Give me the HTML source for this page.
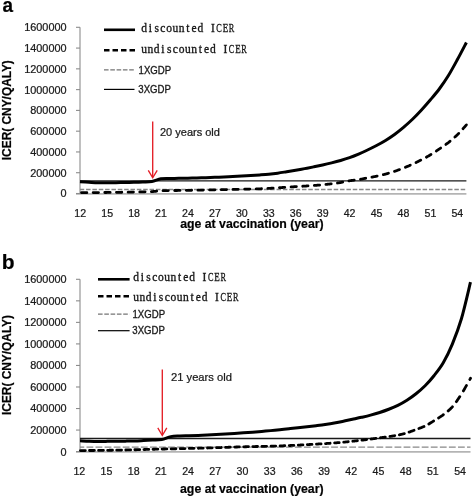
<!DOCTYPE html>
<html><head><meta charset="utf-8"><style>
html,body{margin:0;padding:0;background:#fff;}
body{width:472px;height:497px;overflow:hidden;}
svg{display:block;font-family:"Liberation Sans",sans-serif;will-change:transform;}
#w{width:472px;height:497px;}
</style></head><body><div id="w">
<svg width="472" height="497" viewBox="0 0 472 497">
<rect width="472" height="497" fill="#fff"/>
<g>
<g fill="#1a1a1a" stroke="#1a1a1a" stroke-width="0.24">
<text transform="translate(2.6,12.4) scale(0.9,0.98)" font-size="21" font-weight="bold" fill="#000">a</text>
<text x="1.8" y="268.8" font-size="21" font-weight="bold" fill="#000">b</text>
<text x="66.6" y="31.20" text-anchor="end" font-size="10.9">1600000</text>
<text x="66.6" y="51.98" text-anchor="end" font-size="10.9">1400000</text>
<text x="66.6" y="72.75" text-anchor="end" font-size="10.9">1200000</text>
<text x="66.6" y="93.53" text-anchor="end" font-size="10.9">1000000</text>
<text x="66.6" y="114.30" text-anchor="end" font-size="10.9">800000</text>
<text x="66.6" y="135.08" text-anchor="end" font-size="10.9">600000</text>
<text x="66.6" y="155.85" text-anchor="end" font-size="10.9">400000</text>
<text x="66.6" y="176.62" text-anchor="end" font-size="10.9">200000</text>
<text x="66.6" y="197.40" text-anchor="end" font-size="10.9">0</text>
<text x="66.6" y="283.20" text-anchor="end" font-size="10.9">1600000</text>
<text x="66.6" y="304.74" text-anchor="end" font-size="10.9">1400000</text>
<text x="66.6" y="326.27" text-anchor="end" font-size="10.9">1200000</text>
<text x="66.6" y="347.81" text-anchor="end" font-size="10.9">1000000</text>
<text x="66.6" y="369.35" text-anchor="end" font-size="10.9">800000</text>
<text x="66.6" y="390.89" text-anchor="end" font-size="10.9">600000</text>
<text x="66.6" y="412.43" text-anchor="end" font-size="10.9">400000</text>
<text x="66.6" y="433.96" text-anchor="end" font-size="10.9">200000</text>
<text x="66.6" y="455.50" text-anchor="end" font-size="10.9">0</text>
<text x="80.20" y="216.8" text-anchor="middle" font-size="10.6">12</text>
<text x="107.14" y="216.8" text-anchor="middle" font-size="10.6">15</text>
<text x="134.08" y="216.8" text-anchor="middle" font-size="10.6">18</text>
<text x="161.02" y="216.8" text-anchor="middle" font-size="10.6">21</text>
<text x="187.96" y="216.8" text-anchor="middle" font-size="10.6">24</text>
<text x="214.90" y="216.8" text-anchor="middle" font-size="10.6">27</text>
<text x="241.84" y="216.8" text-anchor="middle" font-size="10.6">30</text>
<text x="268.78" y="216.8" text-anchor="middle" font-size="10.6">33</text>
<text x="295.72" y="216.8" text-anchor="middle" font-size="10.6">36</text>
<text x="322.66" y="216.8" text-anchor="middle" font-size="10.6">39</text>
<text x="349.60" y="216.8" text-anchor="middle" font-size="10.6">42</text>
<text x="376.54" y="216.8" text-anchor="middle" font-size="10.6">45</text>
<text x="403.48" y="216.8" text-anchor="middle" font-size="10.6">48</text>
<text x="430.42" y="216.8" text-anchor="middle" font-size="10.6">51</text>
<text x="457.36" y="216.8" text-anchor="middle" font-size="10.6">54</text>
<text x="79.30" y="474.8" text-anchor="middle" font-size="10.6">12</text>
<text x="106.50" y="474.8" text-anchor="middle" font-size="10.6">15</text>
<text x="133.69" y="474.8" text-anchor="middle" font-size="10.6">18</text>
<text x="160.88" y="474.8" text-anchor="middle" font-size="10.6">21</text>
<text x="188.08" y="474.8" text-anchor="middle" font-size="10.6">24</text>
<text x="215.27" y="474.8" text-anchor="middle" font-size="10.6">27</text>
<text x="242.47" y="474.8" text-anchor="middle" font-size="10.6">30</text>
<text x="269.66" y="474.8" text-anchor="middle" font-size="10.6">33</text>
<text x="296.86" y="474.8" text-anchor="middle" font-size="10.6">36</text>
<text x="324.06" y="474.8" text-anchor="middle" font-size="10.6">39</text>
<text x="351.25" y="474.8" text-anchor="middle" font-size="10.6">42</text>
<text x="378.44" y="474.8" text-anchor="middle" font-size="10.6">45</text>
<text x="405.64" y="474.8" text-anchor="middle" font-size="10.6">48</text>
<text x="432.83" y="474.8" text-anchor="middle" font-size="10.6">51</text>
<text x="460.03" y="474.8" text-anchor="middle" font-size="10.6">54</text>
<text transform="translate(11.2,110.2) rotate(-90)" text-anchor="middle" font-size="11.9" font-weight="bold" fill="#000">ICER( CNY/QALY)</text>
<text transform="translate(11.2,365) rotate(-90)" text-anchor="middle" font-size="11.9" font-weight="bold" fill="#000">ICER( CNY/QALY)</text>
<text x="251.9" y="228.1" text-anchor="middle" font-size="12.3" font-weight="bold" fill="#000">age at vaccination (year)</text>
<text x="251.8" y="492.8" text-anchor="middle" font-size="12.3" font-weight="bold" fill="#000">age at vaccination (year)</text>
<text x="160" y="135.6" font-size="11">20 years old</text>
<text x="171" y="381.2" font-size="11.2">21 years old</text>
</g>
<line x1="80.0" y1="27.3" x2="80.0" y2="193.5" stroke="#8c8c8c" stroke-width="1.1"/>
<line x1="76.0" y1="193.9" x2="466.4" y2="193.9" stroke="#b4b4b4" stroke-width="1.8"/>
<line x1="76.0" y1="27.30" x2="80.0" y2="27.30" stroke="#8c8c8c" stroke-width="1.1"/>
<line x1="76.0" y1="48.08" x2="80.0" y2="48.08" stroke="#8c8c8c" stroke-width="1.1"/>
<line x1="76.0" y1="68.85" x2="80.0" y2="68.85" stroke="#8c8c8c" stroke-width="1.1"/>
<line x1="76.0" y1="89.62" x2="80.0" y2="89.62" stroke="#8c8c8c" stroke-width="1.1"/>
<line x1="76.0" y1="110.40" x2="80.0" y2="110.40" stroke="#8c8c8c" stroke-width="1.1"/>
<line x1="76.0" y1="131.18" x2="80.0" y2="131.18" stroke="#8c8c8c" stroke-width="1.1"/>
<line x1="76.0" y1="151.95" x2="80.0" y2="151.95" stroke="#8c8c8c" stroke-width="1.1"/>
<line x1="76.0" y1="172.72" x2="80.0" y2="172.72" stroke="#8c8c8c" stroke-width="1.1"/>
<line x1="76.0" y1="193.50" x2="80.0" y2="193.50" stroke="#8c8c8c" stroke-width="1.1"/>
<line x1="80.0" y1="189.5" x2="466.4" y2="189.5" stroke="#888" stroke-width="1.3" stroke-dasharray="4.5 1.85" stroke-dashoffset="0.3"/>
<line x1="80.0" y1="180.85" x2="466.4" y2="180.85" stroke="#1a1a1a" stroke-width="1.45"/>
<path d="M80.00,192.70 L80.20,192.70 L80.43,192.70 L80.69,192.70 L80.98,192.70 L81.29,192.69 L81.61,192.69 L81.96,192.69 L82.33,192.69 L82.71,192.69 L83.11,192.69 L83.51,192.68 L83.93,192.68 L84.36,192.68 L84.79,192.68 L85.22,192.67 L85.66,192.67 L86.09,192.67 L86.53,192.67 L86.96,192.66 L87.38,192.66 L87.80,192.66 L88.21,192.66 L88.60,192.65 L88.99,192.65 L89.36,192.65 L89.73,192.65 L90.11,192.64 L90.48,192.64 L90.86,192.64 L91.23,192.64 L91.61,192.63 L91.98,192.63 L92.36,192.63 L92.73,192.62 L93.10,192.62 L93.48,192.62 L93.85,192.61 L94.23,192.61 L94.60,192.61 L94.98,192.60 L95.35,192.60 L95.73,192.60 L96.10,192.59 L96.47,192.59 L96.85,192.59 L97.22,192.58 L97.60,192.58 L97.97,192.57 L98.35,192.57 L98.72,192.57 L99.10,192.56 L99.47,192.56 L99.84,192.55 L100.22,192.55 L100.59,192.55 L100.97,192.54 L101.34,192.54 L101.72,192.53 L102.09,192.53 L102.47,192.53 L102.84,192.52 L103.21,192.52 L103.59,192.51 L103.96,192.51 L104.34,192.50 L104.71,192.50 L105.09,192.50 L105.46,192.49 L105.83,192.49 L106.21,192.48 L106.58,192.48 L106.96,192.47 L107.33,192.47 L107.71,192.46 L108.08,192.46 L108.46,192.45 L108.83,192.45 L109.20,192.44 L109.58,192.44 L109.95,192.44 L110.33,192.43 L110.70,192.43 L111.08,192.42 L111.45,192.42 L111.83,192.41 L112.20,192.41 L112.57,192.40 L112.95,192.40 L113.32,192.39 L113.70,192.39 L114.07,192.38 L114.45,192.38 L114.82,192.37 L115.20,192.37 L115.57,192.36 L115.94,192.36 L116.32,192.35 L116.69,192.35 L117.07,192.34 L117.44,192.34 L117.82,192.33 L118.19,192.33 L118.57,192.32 L118.94,192.32 L119.31,192.31 L119.69,192.31 L120.06,192.30 L120.44,192.30 L120.81,192.29 L121.19,192.28 L121.56,192.28 L121.93,192.27 L122.31,192.27 L122.68,192.26 L123.06,192.26 L123.43,192.25 L123.81,192.25 L124.18,192.24 L124.56,192.24 L124.93,192.23 L125.30,192.23 L125.68,192.22 L126.05,192.22 L126.43,192.21 L126.80,192.20 L127.18,192.20 L127.55,192.19 L127.93,192.19 L128.30,192.18 L128.67,192.18 L129.05,192.17 L129.42,192.17 L129.80,192.16 L130.17,192.15 L130.55,192.15 L130.92,192.14 L131.30,192.14 L131.67,192.13 L132.04,192.12 L132.42,192.12 L132.79,192.11 L133.17,192.10 L133.54,192.10 L133.92,192.09 L134.29,192.08 L134.67,192.08 L135.04,192.07 L135.41,192.06 L135.79,192.06 L136.16,192.05 L136.54,192.04 L136.91,192.03 L137.29,192.03 L137.66,192.02 L138.03,192.01 L138.41,192.00 L138.78,191.99 L139.16,191.99 L139.53,191.98 L139.91,191.97 L140.28,191.96 L140.66,191.95 L141.03,191.94 L141.40,191.93 L141.78,191.92 L142.15,191.91 L142.53,191.90 L142.90,191.89 L143.28,191.88 L143.65,191.87 L144.03,191.87 L144.40,191.86 L144.77,191.85 L145.15,191.84 L145.52,191.83 L145.90,191.82 L146.27,191.81 L146.65,191.80 L147.02,191.79 L147.40,191.79 L147.77,191.77 L148.14,191.76 L148.52,191.75 L148.89,191.74 L149.27,191.73 L149.64,191.71 L150.02,191.70 L150.39,191.68 L150.77,191.66 L151.14,191.64 L151.51,191.62 L151.89,191.60 L152.26,191.58 L152.64,191.55 L153.01,191.52 L153.39,191.49 L153.76,191.46 L154.13,191.42 L154.51,191.39 L154.88,191.35 L155.26,191.31 L155.63,191.27 L156.01,191.23 L156.38,191.20 L156.76,191.16 L157.13,191.12 L157.50,191.08 L157.88,191.04 L158.25,191.01 L158.63,190.97 L159.00,190.94 L159.38,190.91 L159.75,190.88 L160.13,190.85 L160.50,190.82 L160.87,190.80 L161.25,190.78 L161.62,190.76 L162.00,190.75 L162.37,190.73 L162.75,190.72 L163.12,190.70 L163.50,190.69 L163.87,190.68 L164.24,190.67 L164.62,190.66 L164.99,190.66 L165.37,190.65 L165.74,190.64 L166.12,190.64 L166.49,190.63 L166.87,190.63 L167.24,190.62 L167.61,190.62 L167.99,190.61 L168.36,190.61 L168.74,190.60 L169.11,190.59 L169.49,190.59 L169.86,190.58 L170.23,190.57 L170.61,190.57 L170.98,190.56 L171.36,190.56 L171.73,190.55 L172.11,190.54 L172.48,190.54 L172.86,190.53 L173.23,190.53 L173.60,190.52 L173.98,190.52 L174.35,190.51 L174.73,190.51 L175.10,190.50 L175.48,190.50 L175.85,190.49 L176.23,190.49 L176.60,190.48 L176.97,190.48 L177.35,190.48 L177.72,190.47 L178.10,190.47 L178.47,190.46 L178.85,190.46 L179.22,190.45 L179.60,190.45 L179.97,190.44 L180.34,190.44 L180.72,190.43 L181.09,190.43 L181.47,190.42 L181.84,190.42 L182.22,190.41 L182.59,190.41 L182.97,190.40 L183.34,190.40 L183.71,190.39 L184.09,190.39 L184.46,190.38 L184.84,190.38 L185.21,190.37 L185.59,190.37 L185.96,190.36 L186.33,190.36 L186.71,190.35 L187.08,190.35 L187.46,190.34 L187.83,190.34 L188.21,190.33 L188.58,190.33 L188.96,190.32 L189.33,190.31 L189.70,190.31 L190.08,190.30 L190.45,190.29 L190.83,190.29 L191.20,190.28 L191.58,190.27 L191.95,190.27 L192.33,190.26 L192.70,190.25 L193.07,190.24 L193.45,190.24 L193.82,190.23 L194.20,190.22 L194.57,190.22 L194.95,190.21 L195.32,190.20 L195.70,190.19 L196.07,190.19 L196.44,190.18 L196.82,190.17 L197.19,190.17 L197.57,190.16 L197.94,190.15 L198.32,190.14 L198.69,190.14 L199.07,190.13 L199.44,190.12 L199.81,190.12 L200.19,190.11 L200.56,190.10 L200.94,190.09 L201.31,190.09 L201.69,190.08 L202.06,190.07 L202.43,190.07 L202.81,190.06 L203.18,190.05 L203.56,190.04 L203.93,190.04 L204.31,190.03 L204.68,190.02 L205.06,190.01 L205.43,190.01 L205.80,190.00 L206.18,189.99 L206.55,189.98 L206.93,189.98 L207.30,189.97 L207.68,189.96 L208.05,189.95 L208.43,189.95 L208.80,189.94 L209.17,189.93 L209.55,189.93 L209.92,189.92 L210.30,189.91 L210.67,189.90 L211.05,189.90 L211.42,189.89 L211.80,189.88 L212.17,189.87 L212.54,189.86 L212.92,189.86 L213.29,189.85 L213.67,189.84 L214.04,189.83 L214.42,189.83 L214.79,189.82 L215.17,189.81 L215.54,189.80 L215.91,189.80 L216.29,189.79 L216.66,189.78 L217.04,189.77 L217.41,189.77 L217.79,189.76 L218.16,189.75 L218.53,189.74 L218.91,189.73 L219.28,189.73 L219.66,189.72 L220.03,189.71 L220.41,189.70 L220.78,189.70 L221.16,189.69 L221.53,189.68 L221.90,189.67 L222.28,189.66 L222.65,189.66 L223.03,189.65 L223.40,189.64 L223.78,189.63 L224.15,189.63 L224.53,189.62 L224.90,189.61 L225.27,189.60 L225.65,189.59 L226.02,189.59 L226.40,189.58 L226.77,189.57 L227.15,189.56 L227.52,189.55 L227.90,189.55 L228.27,189.54 L228.64,189.53 L229.02,189.52 L229.39,189.51 L229.77,189.50 L230.14,189.50 L230.52,189.49 L230.89,189.48 L231.27,189.47 L231.64,189.47 L232.01,189.46 L232.39,189.45 L232.76,189.44 L233.14,189.43 L233.51,189.43 L233.89,189.42 L234.26,189.41 L234.63,189.40 L235.01,189.40 L235.38,189.39 L235.76,189.38 L236.13,189.37 L236.51,189.37 L236.88,189.36 L237.26,189.35 L237.63,189.34 L238.00,189.34 L238.38,189.33 L238.75,189.32 L239.13,189.32 L239.50,189.31 L239.88,189.30 L240.25,189.29 L240.63,189.29 L241.00,189.28 L241.37,189.27 L241.75,189.26 L242.12,189.25 L242.50,189.25 L242.87,189.24 L243.25,189.23 L243.62,189.22 L244.00,189.22 L244.37,189.21 L244.74,189.20 L245.12,189.19 L245.49,189.18 L245.87,189.18 L246.24,189.17 L246.62,189.16 L246.99,189.15 L247.37,189.14 L247.74,189.14 L248.11,189.13 L248.49,189.12 L248.86,189.11 L249.24,189.10 L249.61,189.09 L249.99,189.08 L250.36,189.07 L250.73,189.07 L251.11,189.06 L251.48,189.05 L251.86,189.04 L252.23,189.03 L252.61,189.02 L252.98,189.01 L253.36,189.00 L253.73,188.99 L254.10,188.98 L254.48,188.97 L254.85,188.96 L255.23,188.95 L255.60,188.94 L255.98,188.93 L256.35,188.92 L256.73,188.91 L257.10,188.90 L257.47,188.89 L257.85,188.87 L258.22,188.86 L258.60,188.85 L258.97,188.84 L259.35,188.82 L259.72,188.81 L260.10,188.80 L260.47,188.78 L260.84,188.77 L261.22,188.75 L261.59,188.74 L261.97,188.72 L262.34,188.71 L262.72,188.69 L263.09,188.67 L263.47,188.66 L263.84,188.64 L264.21,188.62 L264.59,188.61 L264.96,188.59 L265.34,188.57 L265.71,188.55 L266.09,188.53 L266.46,188.52 L266.83,188.50 L267.21,188.48 L267.58,188.46 L267.96,188.44 L268.33,188.42 L268.71,188.40 L269.08,188.38 L269.46,188.36 L269.83,188.34 L270.20,188.31 L270.58,188.29 L270.95,188.27 L271.33,188.25 L271.70,188.22 L272.08,188.20 L272.45,188.18 L272.83,188.15 L273.20,188.13 L273.57,188.10 L273.95,188.08 L274.32,188.05 L274.70,188.03 L275.07,188.00 L275.45,187.98 L275.82,187.95 L276.20,187.93 L276.57,187.90 L276.94,187.88 L277.32,187.86 L277.69,187.83 L278.07,187.81 L278.44,187.78 L278.82,187.76 L279.19,187.73 L279.57,187.70 L279.94,187.68 L280.31,187.65 L280.69,187.63 L281.06,187.60 L281.44,187.58 L281.81,187.55 L282.19,187.52 L282.56,187.50 L282.93,187.47 L283.31,187.44 L283.68,187.42 L284.06,187.39 L284.43,187.37 L284.81,187.34 L285.18,187.32 L285.56,187.29 L285.93,187.27 L286.30,187.24 L286.68,187.22 L287.05,187.19 L287.43,187.17 L287.80,187.14 L288.18,187.12 L288.55,187.10 L288.93,187.07 L289.30,187.05 L289.67,187.02 L290.05,187.00 L290.42,186.98 L290.80,186.95 L291.17,186.93 L291.55,186.91 L291.92,186.88 L292.30,186.86 L292.67,186.84 L293.04,186.81 L293.42,186.79 L293.79,186.77 L294.17,186.75 L294.54,186.72 L294.92,186.70 L295.29,186.68 L295.67,186.65 L296.04,186.63 L296.41,186.61 L296.79,186.59 L297.16,186.56 L297.54,186.54 L297.91,186.52 L298.29,186.50 L298.66,186.47 L299.03,186.45 L299.41,186.43 L299.78,186.41 L300.16,186.39 L300.53,186.36 L300.91,186.34 L301.28,186.32 L301.66,186.30 L302.03,186.27 L302.40,186.25 L302.78,186.23 L303.15,186.21 L303.53,186.18 L303.90,186.16 L304.28,186.14 L304.65,186.11 L305.03,186.09 L305.40,186.06 L305.77,186.04 L306.15,186.02 L306.52,185.99 L306.90,185.97 L307.27,185.95 L307.65,185.92 L308.02,185.90 L308.40,185.87 L308.77,185.85 L309.14,185.82 L309.52,185.80 L309.89,185.77 L310.27,185.75 L310.64,185.72 L311.02,185.70 L311.39,185.67 L311.77,185.65 L312.14,185.62 L312.51,185.59 L312.89,185.57 L313.26,185.54 L313.64,185.51 L314.01,185.48 L314.39,185.45 L314.76,185.42 L315.13,185.40 L315.51,185.37 L315.88,185.34 L316.26,185.31 L316.63,185.28 L317.01,185.25 L317.38,185.22 L317.76,185.19 L318.13,185.16 L318.50,185.13 L318.88,185.10 L319.25,185.07 L319.63,185.03 L320.00,185.00 L320.38,184.97 L320.75,184.93 L321.13,184.90 L321.50,184.87 L321.87,184.83 L322.25,184.80 L322.62,184.76 L323.00,184.72 L323.37,184.69 L323.75,184.65 L324.12,184.61 L324.50,184.57 L324.87,184.53 L325.24,184.49 L325.62,184.45 L325.99,184.41 L326.37,184.37 L326.74,184.33 L327.12,184.29 L327.49,184.25 L327.87,184.21 L328.24,184.16 L328.61,184.12 L328.99,184.08 L329.36,184.03 L329.74,183.99 L330.11,183.94 L330.49,183.90 L330.86,183.85 L331.23,183.81 L331.61,183.76 L331.98,183.71 L332.36,183.67 L332.73,183.62 L333.11,183.57 L333.48,183.52 L333.86,183.48 L334.23,183.43 L334.60,183.38 L334.98,183.33 L335.35,183.28 L335.73,183.23 L336.10,183.18 L336.48,183.13 L336.85,183.08 L337.23,183.02 L337.60,182.97 L337.97,182.92 L338.35,182.86 L338.72,182.80 L339.10,182.75 L339.47,182.69 L339.85,182.63 L340.22,182.57 L340.60,182.51 L340.97,182.44 L341.34,182.38 L341.72,182.31 L342.09,182.24 L342.47,182.17 L342.84,182.09 L343.22,182.02 L343.59,181.94 L343.97,181.86 L344.34,181.79 L344.71,181.71 L345.09,181.63 L345.46,181.55 L345.84,181.47 L346.21,181.40 L346.59,181.32 L346.96,181.25 L347.33,181.17 L347.71,181.10 L348.08,181.03 L348.46,180.96 L348.83,180.89 L349.21,180.83 L349.58,180.77 L349.96,180.71 L350.33,180.65 L350.70,180.60 L351.08,180.55 L351.45,180.50 L351.83,180.45 L352.20,180.40 L352.58,180.36 L352.95,180.31 L353.33,180.27 L353.70,180.23 L354.07,180.19 L354.45,180.14 L354.82,180.10 L355.20,180.06 L355.57,180.02 L355.95,179.97 L356.32,179.93 L356.70,179.88 L357.07,179.83 L357.44,179.78 L357.82,179.72 L358.19,179.67 L358.57,179.61 L358.94,179.55 L359.32,179.49 L359.69,179.42 L360.07,179.36 L360.44,179.29 L360.81,179.22 L361.19,179.15 L361.56,179.08 L361.94,179.01 L362.31,178.94 L362.69,178.86 L363.06,178.79 L363.43,178.72 L363.81,178.64 L364.18,178.57 L364.56,178.49 L364.93,178.42 L365.31,178.34 L365.68,178.27 L366.06,178.19 L366.43,178.12 L366.80,178.05 L367.18,177.97 L367.55,177.90 L367.93,177.83 L368.30,177.76 L368.68,177.69 L369.05,177.62 L369.43,177.55 L369.80,177.49 L370.17,177.42 L370.55,177.35 L370.92,177.28 L371.30,177.21 L371.67,177.14 L372.05,177.08 L372.42,177.01 L372.80,176.94 L373.17,176.87 L373.54,176.80 L373.92,176.73 L374.29,176.66 L374.67,176.58 L375.04,176.51 L375.42,176.43 L375.79,176.36 L376.17,176.28 L376.54,176.20 L376.91,176.12 L377.29,176.04 L377.66,175.96 L378.04,175.88 L378.41,175.80 L378.79,175.72 L379.16,175.64 L379.53,175.56 L379.91,175.47 L380.28,175.39 L380.66,175.30 L381.03,175.22 L381.41,175.13 L381.78,175.04 L382.16,174.96 L382.53,174.87 L382.90,174.77 L383.28,174.68 L383.65,174.59 L384.03,174.49 L384.40,174.40 L384.78,174.30 L385.15,174.20 L385.53,174.10 L385.90,174.00 L386.27,173.90 L386.65,173.79 L387.02,173.69 L387.40,173.58 L387.77,173.47 L388.15,173.37 L388.52,173.26 L388.90,173.14 L389.27,173.03 L389.64,172.92 L390.02,172.80 L390.39,172.69 L390.77,172.57 L391.14,172.45 L391.52,172.34 L391.89,172.22 L392.27,172.10 L392.64,171.97 L393.01,171.85 L393.39,171.73 L393.76,171.61 L394.14,171.48 L394.51,171.35 L394.89,171.23 L395.26,171.10 L395.63,170.97 L396.01,170.84 L396.38,170.71 L396.76,170.58 L397.13,170.45 L397.51,170.31 L397.88,170.18 L398.26,170.05 L398.63,169.91 L399.00,169.77 L399.38,169.63 L399.75,169.49 L400.13,169.35 L400.50,169.21 L400.88,169.07 L401.25,168.93 L401.63,168.78 L402.00,168.64 L402.37,168.49 L402.75,168.35 L403.12,168.20 L403.50,168.05 L403.87,167.90 L404.25,167.75 L404.62,167.59 L405.00,167.44 L405.37,167.29 L405.74,167.13 L406.12,166.98 L406.49,166.82 L406.87,166.66 L407.24,166.50 L407.62,166.34 L407.99,166.18 L408.37,166.02 L408.74,165.86 L409.11,165.69 L409.49,165.53 L409.86,165.36 L410.24,165.19 L410.61,165.03 L410.99,164.86 L411.36,164.69 L411.73,164.52 L412.11,164.35 L412.48,164.17 L412.86,164.00 L413.23,163.83 L413.61,163.65 L413.98,163.47 L414.36,163.30 L414.73,163.12 L415.10,162.94 L415.48,162.76 L415.85,162.58 L416.23,162.39 L416.60,162.21 L416.98,162.03 L417.35,161.84 L417.73,161.66 L418.10,161.47 L418.47,161.28 L418.85,161.09 L419.22,160.90 L419.60,160.71 L419.97,160.52 L420.35,160.33 L420.72,160.14 L421.10,159.94 L421.47,159.75 L421.84,159.56 L422.22,159.36 L422.59,159.17 L422.97,158.97 L423.34,158.77 L423.72,158.58 L424.09,158.38 L424.47,158.18 L424.84,157.99 L425.21,157.79 L425.59,157.59 L425.96,157.38 L426.34,157.18 L426.71,156.98 L427.09,156.77 L427.46,156.56 L427.83,156.35 L428.21,156.14 L428.58,155.93 L428.96,155.71 L429.33,155.49 L429.71,155.27 L430.08,155.05 L430.46,154.83 L430.83,154.60 L431.20,154.37 L431.58,154.14 L431.95,153.90 L432.33,153.66 L432.70,153.42 L433.08,153.18 L433.45,152.94 L433.83,152.69 L434.20,152.44 L434.57,152.20 L434.95,151.94 L435.32,151.69 L435.70,151.44 L436.07,151.19 L436.45,150.93 L436.82,150.68 L437.20,150.42 L437.57,150.17 L437.94,149.91 L438.32,149.65 L438.69,149.40 L439.07,149.14 L439.44,148.88 L439.82,148.63 L440.19,148.37 L440.57,148.12 L440.94,147.87 L441.31,147.61 L441.69,147.36 L442.06,147.11 L442.44,146.85 L442.81,146.60 L443.19,146.34 L443.56,146.09 L443.93,145.83 L444.31,145.57 L444.68,145.31 L445.06,145.05 L445.43,144.78 L445.81,144.51 L446.18,144.24 L446.56,143.96 L446.93,143.69 L447.30,143.41 L447.68,143.12 L448.05,142.83 L448.43,142.54 L448.80,142.24 L449.18,141.94 L449.55,141.64 L449.93,141.34 L450.30,141.03 L450.67,140.72 L451.05,140.41 L451.42,140.10 L451.80,139.78 L452.17,139.47 L452.55,139.14 L452.92,138.82 L453.30,138.49 L453.67,138.16 L454.04,137.83 L454.42,137.49 L454.79,137.15 L455.17,136.81 L455.54,136.47 L455.92,136.11 L456.29,135.76 L456.67,135.40 L457.04,135.04 L457.41,134.68 L457.80,134.30 L458.19,133.90 L458.60,133.48 L459.02,133.04 L459.44,132.60 L459.87,132.14 L460.31,131.67 L460.74,131.20 L461.18,130.72 L461.61,130.24 L462.04,129.77 L462.47,129.30 L462.89,128.83 L463.29,128.38 L463.69,127.93 L464.07,127.51 L464.44,127.09 L464.79,126.70 L465.11,126.33 L465.42,125.99 L465.71,125.67 L465.97,125.38 L466.20,125.12 L466.40,124.90" fill="none" stroke="#000" stroke-width="2.8" stroke-dasharray="5.35 6.30 5.35 6.30 5.35 6.30 5.35 6.30 5.35 6.30 5.35 6.30 5.35 6.30 5.35 6.30 5.35 6.30 5.35 6.30 5.35 6.30 5.35 6.30 5.35 6.30 5.35 6.30 5.35 6.30 5.35 6.30 5.35 6.30 5.35 6.30 5.35 6.30 5.35 6.30 5.35 6.30 5.35 6.30 5.35 6.30 5.35 6.30 5.35 6.30 5.35 6.30 5.35 6.30 5.35 6.30 5.35 6.30 5.35 6.30 5.35 6.30 5.35 6.30 5.35 6.30 5.35 6.30 5.35 6.30 5.35 6.30 5.35 6.30" stroke-dashoffset="-1.50" stroke-linecap="round" stroke-linejoin="round"/>
<path d="M80.00,181.80 C81.50,181.88 85.99,182.11 88.99,182.25 C91.98,182.40 94.98,182.60 97.97,182.67 C100.97,182.74 103.96,182.69 106.96,182.69 C109.95,182.68 112.95,182.66 115.94,182.63 C118.94,182.61 121.93,182.59 124.93,182.53 C127.93,182.47 130.92,182.38 133.92,182.29 C136.91,182.21 139.91,182.13 142.90,182.01 C145.90,181.90 148.89,182.14 151.89,181.60 C154.88,181.07 157.88,179.32 160.87,178.80 C163.87,178.28 166.87,178.55 169.86,178.47 C172.86,178.39 175.85,178.36 178.85,178.31 C181.84,178.26 184.84,178.22 187.83,178.15 C190.83,178.09 193.82,178.00 196.82,177.91 C199.81,177.82 202.81,177.73 205.80,177.63 C208.80,177.53 211.80,177.43 214.79,177.31 C217.79,177.19 220.78,177.05 223.78,176.90 C226.77,176.76 229.77,176.59 232.76,176.42 C235.76,176.26 238.75,176.08 241.75,175.91 C244.74,175.75 247.74,175.59 250.73,175.42 C253.73,175.25 256.73,175.10 259.72,174.90 C262.72,174.70 265.71,174.52 268.71,174.23 C271.70,173.93 274.70,173.57 277.69,173.15 C280.69,172.74 283.68,172.22 286.68,171.74 C289.67,171.25 292.67,170.78 295.67,170.26 C298.66,169.74 301.66,169.19 304.65,168.63 C307.65,168.07 310.64,167.48 313.64,166.88 C316.63,166.28 319.63,165.68 322.62,165.01 C325.62,164.35 328.61,163.65 331.61,162.90 C334.60,162.14 337.60,161.36 340.60,160.48 C343.59,159.61 346.59,158.70 349.58,157.65 C352.58,156.59 355.57,155.41 358.57,154.13 C361.56,152.86 364.56,151.43 367.55,149.99 C370.55,148.55 373.54,147.08 376.54,145.49 C379.53,143.89 382.53,142.26 385.53,140.43 C388.52,138.59 391.52,136.64 394.51,134.46 C397.51,132.28 400.50,129.87 403.50,127.34 C406.49,124.81 409.49,122.17 412.48,119.27 C415.48,116.37 418.47,113.19 421.47,109.94 C424.47,106.69 427.46,103.31 430.46,99.77 C433.45,96.24 436.45,92.79 439.44,88.75 C442.44,84.71 445.43,80.41 448.43,75.55 C451.42,70.69 454.42,65.10 457.41,59.59 C460.41,54.08 464.90,45.35 466.40,42.50" fill="none" stroke="#000" stroke-width="3.0"/>
<line x1="80.0" y1="279.3" x2="80.0" y2="451.6" stroke="#8c8c8c" stroke-width="1.1"/>
<line x1="76.0" y1="451.8" x2="470.5" y2="451.8" stroke="#b4b4b4" stroke-width="1.8"/>
<line x1="76.0" y1="279.30" x2="80.0" y2="279.30" stroke="#8c8c8c" stroke-width="1.1"/>
<line x1="76.0" y1="300.84" x2="80.0" y2="300.84" stroke="#8c8c8c" stroke-width="1.1"/>
<line x1="76.0" y1="322.38" x2="80.0" y2="322.38" stroke="#8c8c8c" stroke-width="1.1"/>
<line x1="76.0" y1="343.91" x2="80.0" y2="343.91" stroke="#8c8c8c" stroke-width="1.1"/>
<line x1="76.0" y1="365.45" x2="80.0" y2="365.45" stroke="#8c8c8c" stroke-width="1.1"/>
<line x1="76.0" y1="386.99" x2="80.0" y2="386.99" stroke="#8c8c8c" stroke-width="1.1"/>
<line x1="76.0" y1="408.53" x2="80.0" y2="408.53" stroke="#8c8c8c" stroke-width="1.1"/>
<line x1="76.0" y1="430.06" x2="80.0" y2="430.06" stroke="#8c8c8c" stroke-width="1.1"/>
<line x1="76.0" y1="451.60" x2="80.0" y2="451.60" stroke="#8c8c8c" stroke-width="1.1"/>
<line x1="80.0" y1="447.2" x2="470.5" y2="447.2" stroke="#888" stroke-width="1.3" stroke-dasharray="6.8 2.26" stroke-dashoffset="2.56"/>
<line x1="80.0" y1="438.45" x2="470.5" y2="438.45" stroke="#1a1a1a" stroke-width="1.45"/>
<path d="M80.00,450.60 L80.20,450.60 L80.44,450.60 L80.70,450.59 L80.99,450.59 L81.30,450.59 L81.63,450.59 L81.98,450.58 L82.35,450.58 L82.74,450.58 L83.14,450.58 L83.55,450.57 L83.97,450.57 L84.40,450.57 L84.84,450.56 L85.28,450.56 L85.72,450.56 L86.16,450.55 L86.60,450.55 L87.03,450.55 L87.46,450.54 L87.88,450.54 L88.30,450.53 L88.70,450.53 L89.08,450.53 L89.46,450.52 L89.84,450.52 L90.22,450.52 L90.59,450.51 L90.97,450.51 L91.35,450.50 L91.73,450.50 L92.11,450.50 L92.49,450.49 L92.87,450.49 L93.24,450.48 L93.62,450.48 L94.00,450.48 L94.38,450.47 L94.76,450.47 L95.14,450.46 L95.51,450.46 L95.89,450.45 L96.27,450.45 L96.65,450.44 L97.03,450.44 L97.41,450.43 L97.78,450.43 L98.16,450.43 L98.54,450.42 L98.92,450.42 L99.30,450.41 L99.68,450.41 L100.05,450.40 L100.43,450.40 L100.81,450.39 L101.19,450.39 L101.57,450.38 L101.95,450.38 L102.33,450.37 L102.70,450.37 L103.08,450.36 L103.46,450.36 L103.84,450.35 L104.22,450.34 L104.60,450.34 L104.97,450.33 L105.35,450.33 L105.73,450.32 L106.11,450.32 L106.49,450.31 L106.87,450.31 L107.24,450.30 L107.62,450.30 L108.00,450.29 L108.38,450.28 L108.76,450.28 L109.14,450.27 L109.51,450.27 L109.89,450.26 L110.27,450.26 L110.65,450.25 L111.03,450.24 L111.41,450.24 L111.78,450.23 L112.16,450.23 L112.54,450.22 L112.92,450.22 L113.30,450.21 L113.68,450.20 L114.06,450.20 L114.43,450.19 L114.81,450.19 L115.19,450.18 L115.57,450.17 L115.95,450.17 L116.33,450.16 L116.70,450.15 L117.08,450.15 L117.46,450.14 L117.84,450.14 L118.22,450.13 L118.60,450.12 L118.97,450.12 L119.35,450.11 L119.73,450.10 L120.11,450.10 L120.49,450.09 L120.87,450.08 L121.24,450.08 L121.62,450.07 L122.00,450.06 L122.38,450.06 L122.76,450.05 L123.14,450.04 L123.52,450.04 L123.89,450.03 L124.27,450.02 L124.65,450.01 L125.03,450.01 L125.41,450.00 L125.79,449.99 L126.16,449.98 L126.54,449.97 L126.92,449.97 L127.30,449.96 L127.68,449.95 L128.06,449.94 L128.43,449.93 L128.81,449.92 L129.19,449.91 L129.57,449.90 L129.95,449.90 L130.33,449.89 L130.70,449.88 L131.08,449.87 L131.46,449.86 L131.84,449.85 L132.22,449.84 L132.60,449.83 L132.97,449.82 L133.35,449.81 L133.73,449.80 L134.11,449.79 L134.49,449.78 L134.87,449.77 L135.25,449.76 L135.62,449.75 L136.00,449.74 L136.38,449.73 L136.76,449.72 L137.14,449.71 L137.52,449.70 L137.89,449.69 L138.27,449.68 L138.65,449.67 L139.03,449.66 L139.41,449.65 L139.79,449.64 L140.16,449.63 L140.54,449.62 L140.92,449.61 L141.30,449.60 L141.68,449.59 L142.06,449.58 L142.43,449.57 L142.81,449.56 L143.19,449.55 L143.57,449.54 L143.95,449.53 L144.33,449.52 L144.70,449.51 L145.08,449.49 L145.46,449.48 L145.84,449.47 L146.22,449.46 L146.60,449.45 L146.98,449.44 L147.35,449.43 L147.73,449.42 L148.11,449.41 L148.49,449.40 L148.87,449.39 L149.25,449.38 L149.62,449.37 L150.00,449.36 L150.38,449.35 L150.76,449.34 L151.14,449.33 L151.52,449.32 L151.89,449.31 L152.27,449.30 L152.65,449.29 L153.03,449.28 L153.41,449.27 L153.79,449.26 L154.16,449.25 L154.54,449.24 L154.92,449.23 L155.30,449.22 L155.68,449.21 L156.06,449.20 L156.44,449.19 L156.81,449.18 L157.19,449.17 L157.57,449.16 L157.95,449.15 L158.33,449.14 L158.71,449.13 L159.08,449.12 L159.46,449.11 L159.84,449.10 L160.22,449.10 L160.60,449.09 L160.98,449.08 L161.35,449.07 L161.73,449.06 L162.11,449.05 L162.49,449.04 L162.87,449.03 L163.25,449.02 L163.62,449.02 L164.00,449.01 L164.38,449.00 L164.76,448.99 L165.14,448.98 L165.52,448.97 L165.89,448.97 L166.27,448.96 L166.65,448.95 L167.03,448.94 L167.41,448.93 L167.79,448.92 L168.17,448.92 L168.54,448.91 L168.92,448.90 L169.30,448.89 L169.68,448.88 L170.06,448.87 L170.44,448.87 L170.81,448.86 L171.19,448.85 L171.57,448.84 L171.95,448.83 L172.33,448.83 L172.71,448.82 L173.08,448.81 L173.46,448.80 L173.84,448.79 L174.22,448.79 L174.60,448.78 L174.98,448.77 L175.35,448.76 L175.73,448.75 L176.11,448.75 L176.49,448.74 L176.87,448.73 L177.25,448.72 L177.62,448.71 L178.00,448.71 L178.38,448.70 L178.76,448.69 L179.14,448.68 L179.52,448.67 L179.90,448.67 L180.27,448.66 L180.65,448.65 L181.03,448.64 L181.41,448.63 L181.79,448.63 L182.17,448.62 L182.54,448.61 L182.92,448.60 L183.30,448.59 L183.68,448.59 L184.06,448.58 L184.44,448.57 L184.81,448.56 L185.19,448.55 L185.57,448.54 L185.95,448.54 L186.33,448.53 L186.71,448.52 L187.08,448.51 L187.46,448.50 L187.84,448.49 L188.22,448.49 L188.60,448.48 L188.98,448.47 L189.36,448.46 L189.73,448.45 L190.11,448.44 L190.49,448.43 L190.87,448.43 L191.25,448.42 L191.63,448.41 L192.00,448.40 L192.38,448.39 L192.76,448.38 L193.14,448.37 L193.52,448.36 L193.90,448.35 L194.27,448.35 L194.65,448.34 L195.03,448.33 L195.41,448.32 L195.79,448.31 L196.17,448.30 L196.54,448.29 L196.92,448.28 L197.30,448.27 L197.68,448.26 L198.06,448.25 L198.44,448.24 L198.81,448.23 L199.19,448.22 L199.57,448.21 L199.95,448.20 L200.33,448.19 L200.71,448.18 L201.09,448.17 L201.46,448.16 L201.84,448.15 L202.22,448.14 L202.60,448.13 L202.98,448.12 L203.36,448.10 L203.73,448.09 L204.11,448.08 L204.49,448.07 L204.87,448.06 L205.25,448.05 L205.63,448.04 L206.00,448.03 L206.38,448.02 L206.76,448.00 L207.14,447.99 L207.52,447.98 L207.90,447.97 L208.27,447.96 L208.65,447.94 L209.03,447.93 L209.41,447.92 L209.79,447.91 L210.17,447.90 L210.55,447.88 L210.92,447.87 L211.30,447.86 L211.68,447.84 L212.06,447.83 L212.44,447.82 L212.82,447.81 L213.19,447.79 L213.57,447.78 L213.95,447.77 L214.33,447.75 L214.71,447.74 L215.09,447.73 L215.46,447.72 L215.84,447.70 L216.22,447.69 L216.60,447.68 L216.98,447.66 L217.36,447.65 L217.73,447.64 L218.11,447.62 L218.49,447.61 L218.87,447.60 L219.25,447.59 L219.63,447.57 L220.00,447.56 L220.38,447.55 L220.76,447.53 L221.14,447.52 L221.52,447.50 L221.90,447.49 L222.28,447.48 L222.65,447.46 L223.03,447.45 L223.41,447.44 L223.79,447.43 L224.17,447.41 L224.55,447.40 L224.92,447.39 L225.30,447.37 L225.68,447.36 L226.06,447.35 L226.44,447.33 L226.82,447.32 L227.19,447.31 L227.57,447.30 L227.95,447.28 L228.33,447.27 L228.71,447.26 L229.09,447.24 L229.46,447.23 L229.84,447.22 L230.22,447.20 L230.60,447.19 L230.98,447.18 L231.36,447.17 L231.73,447.15 L232.11,447.14 L232.49,447.13 L232.87,447.12 L233.25,447.10 L233.63,447.09 L234.01,447.08 L234.38,447.07 L234.76,447.06 L235.14,447.05 L235.52,447.03 L235.90,447.02 L236.28,447.01 L236.65,447.00 L237.03,446.99 L237.41,446.98 L237.79,446.97 L238.17,446.95 L238.55,446.94 L238.92,446.93 L239.30,446.92 L239.68,446.91 L240.06,446.90 L240.44,446.89 L240.82,446.88 L241.19,446.87 L241.57,446.86 L241.95,446.85 L242.33,446.84 L242.71,446.83 L243.09,446.82 L243.47,446.81 L243.84,446.80 L244.22,446.79 L244.60,446.78 L244.98,446.77 L245.36,446.76 L245.74,446.75 L246.11,446.74 L246.49,446.73 L246.87,446.72 L247.25,446.71 L247.63,446.70 L248.01,446.69 L248.38,446.69 L248.76,446.68 L249.14,446.67 L249.52,446.66 L249.90,446.65 L250.28,446.64 L250.65,446.63 L251.03,446.62 L251.41,446.62 L251.79,446.61 L252.17,446.60 L252.55,446.59 L252.92,446.58 L253.30,446.57 L253.68,446.56 L254.06,446.56 L254.44,446.55 L254.82,446.54 L255.20,446.53 L255.57,446.52 L255.95,446.51 L256.33,446.51 L256.71,446.50 L257.09,446.49 L257.47,446.48 L257.84,446.47 L258.22,446.46 L258.60,446.46 L258.98,446.45 L259.36,446.44 L259.74,446.43 L260.11,446.42 L260.49,446.41 L260.87,446.41 L261.25,446.40 L261.63,446.39 L262.01,446.38 L262.38,446.37 L262.76,446.36 L263.14,446.35 L263.52,446.35 L263.90,446.34 L264.28,446.33 L264.66,446.32 L265.03,446.31 L265.41,446.30 L265.79,446.29 L266.17,446.28 L266.55,446.28 L266.93,446.27 L267.30,446.26 L267.68,446.25 L268.06,446.24 L268.44,446.23 L268.82,446.22 L269.20,446.21 L269.57,446.20 L269.95,446.19 L270.33,446.18 L270.71,446.17 L271.09,446.16 L271.47,446.15 L271.84,446.14 L272.22,446.13 L272.60,446.12 L272.98,446.11 L273.36,446.10 L273.74,446.09 L274.11,446.08 L274.49,446.07 L274.87,446.06 L275.25,446.05 L275.63,446.04 L276.01,446.03 L276.39,446.01 L276.76,446.00 L277.14,445.99 L277.52,445.98 L277.90,445.97 L278.28,445.96 L278.66,445.94 L279.03,445.93 L279.41,445.92 L279.79,445.91 L280.17,445.89 L280.55,445.88 L280.93,445.87 L281.30,445.85 L281.68,445.84 L282.06,445.83 L282.44,445.81 L282.82,445.80 L283.20,445.79 L283.57,445.77 L283.95,445.76 L284.33,445.74 L284.71,445.73 L285.09,445.71 L285.47,445.70 L285.84,445.68 L286.22,445.67 L286.60,445.65 L286.98,445.64 L287.36,445.62 L287.74,445.61 L288.12,445.59 L288.49,445.58 L288.87,445.56 L289.25,445.54 L289.63,445.53 L290.01,445.51 L290.39,445.49 L290.76,445.48 L291.14,445.46 L291.52,445.44 L291.90,445.43 L292.28,445.41 L292.66,445.39 L293.03,445.37 L293.41,445.36 L293.79,445.34 L294.17,445.32 L294.55,445.30 L294.93,445.28 L295.30,445.27 L295.68,445.25 L296.06,445.23 L296.44,445.21 L296.82,445.19 L297.20,445.17 L297.58,445.15 L297.95,445.14 L298.33,445.12 L298.71,445.10 L299.09,445.08 L299.47,445.06 L299.85,445.04 L300.22,445.02 L300.60,445.00 L300.98,444.98 L301.36,444.96 L301.74,444.94 L302.12,444.92 L302.49,444.90 L302.87,444.88 L303.25,444.86 L303.63,444.84 L304.01,444.82 L304.39,444.80 L304.76,444.78 L305.14,444.76 L305.52,444.73 L305.90,444.71 L306.28,444.69 L306.66,444.67 L307.03,444.65 L307.41,444.63 L307.79,444.61 L308.17,444.59 L308.55,444.57 L308.93,444.55 L309.31,444.52 L309.68,444.50 L310.06,444.48 L310.44,444.46 L310.82,444.44 L311.20,444.42 L311.58,444.39 L311.95,444.37 L312.33,444.35 L312.71,444.33 L313.09,444.31 L313.47,444.29 L313.85,444.26 L314.22,444.24 L314.60,444.22 L314.98,444.20 L315.36,444.17 L315.74,444.15 L316.12,444.13 L316.49,444.11 L316.87,444.09 L317.25,444.06 L317.63,444.04 L318.01,444.02 L318.39,444.00 L318.77,443.97 L319.14,443.95 L319.52,443.93 L319.90,443.91 L320.28,443.88 L320.66,443.86 L321.04,443.84 L321.41,443.82 L321.79,443.79 L322.17,443.77 L322.55,443.75 L322.93,443.72 L323.31,443.70 L323.68,443.68 L324.06,443.65 L324.44,443.63 L324.82,443.60 L325.20,443.58 L325.58,443.56 L325.95,443.53 L326.33,443.51 L326.71,443.48 L327.09,443.46 L327.47,443.43 L327.85,443.41 L328.22,443.38 L328.60,443.36 L328.98,443.33 L329.36,443.31 L329.74,443.28 L330.12,443.25 L330.50,443.23 L330.87,443.20 L331.25,443.17 L331.63,443.15 L332.01,443.12 L332.39,443.09 L332.77,443.07 L333.14,443.04 L333.52,443.01 L333.90,442.98 L334.28,442.95 L334.66,442.92 L335.04,442.90 L335.41,442.87 L335.79,442.84 L336.17,442.81 L336.55,442.78 L336.93,442.75 L337.31,442.72 L337.68,442.69 L338.06,442.66 L338.44,442.63 L338.82,442.60 L339.20,442.57 L339.58,442.53 L339.95,442.50 L340.33,442.47 L340.71,442.44 L341.09,442.41 L341.47,442.37 L341.85,442.34 L342.23,442.31 L342.60,442.27 L342.98,442.24 L343.36,442.20 L343.74,442.17 L344.12,442.13 L344.50,442.09 L344.87,442.06 L345.25,442.02 L345.63,441.98 L346.01,441.94 L346.39,441.91 L346.77,441.87 L347.14,441.83 L347.52,441.79 L347.90,441.75 L348.28,441.71 L348.66,441.67 L349.04,441.63 L349.41,441.59 L349.79,441.55 L350.17,441.51 L350.55,441.47 L350.93,441.43 L351.31,441.39 L351.69,441.35 L352.06,441.30 L352.44,441.26 L352.82,441.22 L353.20,441.18 L353.58,441.14 L353.96,441.10 L354.33,441.05 L354.71,441.01 L355.09,440.97 L355.47,440.93 L355.85,440.88 L356.23,440.84 L356.60,440.80 L356.98,440.75 L357.36,440.71 L357.74,440.67 L358.12,440.62 L358.50,440.58 L358.87,440.54 L359.25,440.49 L359.63,440.45 L360.01,440.40 L360.39,440.36 L360.77,440.31 L361.14,440.27 L361.52,440.22 L361.90,440.18 L362.28,440.13 L362.66,440.08 L363.04,440.04 L363.42,439.99 L363.79,439.95 L364.17,439.90 L364.55,439.85 L364.93,439.81 L365.31,439.76 L365.69,439.71 L366.06,439.66 L366.44,439.62 L366.82,439.57 L367.20,439.52 L367.58,439.47 L367.96,439.43 L368.33,439.38 L368.71,439.33 L369.09,439.28 L369.47,439.23 L369.85,439.18 L370.23,439.13 L370.60,439.08 L370.98,439.03 L371.36,438.98 L371.74,438.93 L372.12,438.88 L372.50,438.83 L372.87,438.78 L373.25,438.73 L373.63,438.68 L374.01,438.63 L374.39,438.57 L374.77,438.52 L375.15,438.47 L375.52,438.42 L375.90,438.37 L376.28,438.31 L376.66,438.26 L377.04,438.21 L377.42,438.16 L377.79,438.10 L378.17,438.05 L378.55,438.00 L378.93,437.95 L379.31,437.90 L379.69,437.84 L380.06,437.79 L380.44,437.74 L380.82,437.69 L381.20,437.64 L381.58,437.59 L381.96,437.54 L382.33,437.49 L382.71,437.44 L383.09,437.39 L383.47,437.34 L383.85,437.29 L384.23,437.24 L384.61,437.19 L384.98,437.14 L385.36,437.08 L385.74,437.03 L386.12,436.98 L386.50,436.93 L386.88,436.88 L387.25,436.82 L387.63,436.77 L388.01,436.71 L388.39,436.66 L388.77,436.60 L389.15,436.55 L389.52,436.49 L389.90,436.43 L390.28,436.38 L390.66,436.32 L391.04,436.27 L391.42,436.22 L391.79,436.16 L392.17,436.10 L392.55,436.05 L392.93,435.99 L393.31,435.93 L393.69,435.88 L394.06,435.82 L394.44,435.76 L394.82,435.69 L395.20,435.63 L395.58,435.57 L395.96,435.50 L396.34,435.43 L396.71,435.36 L397.09,435.29 L397.47,435.21 L397.85,435.13 L398.23,435.05 L398.61,434.97 L398.98,434.89 L399.36,434.81 L399.74,434.72 L400.12,434.64 L400.50,434.55 L400.88,434.46 L401.25,434.37 L401.63,434.28 L402.01,434.19 L402.39,434.09 L402.77,434.00 L403.15,433.90 L403.52,433.80 L403.90,433.70 L404.28,433.59 L404.66,433.49 L405.04,433.38 L405.42,433.27 L405.80,433.16 L406.17,433.05 L406.55,432.94 L406.93,432.82 L407.31,432.71 L407.69,432.58 L408.07,432.46 L408.44,432.34 L408.82,432.21 L409.20,432.08 L409.58,431.95 L409.96,431.81 L410.34,431.68 L410.71,431.54 L411.09,431.40 L411.47,431.26 L411.85,431.12 L412.23,430.98 L412.61,430.84 L412.98,430.70 L413.36,430.55 L413.74,430.41 L414.12,430.26 L414.50,430.12 L414.88,429.98 L415.25,429.83 L415.63,429.69 L416.01,429.55 L416.39,429.40 L416.77,429.26 L417.15,429.12 L417.53,428.99 L417.90,428.85 L418.28,428.71 L418.66,428.58 L419.04,428.44 L419.42,428.30 L419.80,428.16 L420.17,428.02 L420.55,427.88 L420.93,427.74 L421.31,427.60 L421.69,427.45 L422.07,427.30 L422.44,427.15 L422.82,426.99 L423.20,426.83 L423.58,426.67 L423.96,426.50 L424.34,426.33 L424.71,426.15 L425.09,425.97 L425.47,425.78 L425.85,425.59 L426.23,425.39 L426.61,425.19 L426.98,424.99 L427.36,424.78 L427.74,424.57 L428.12,424.35 L428.50,424.14 L428.88,423.92 L429.26,423.69 L429.63,423.47 L430.01,423.24 L430.39,423.01 L430.77,422.78 L431.15,422.55 L431.53,422.31 L431.90,422.08 L432.28,421.84 L432.66,421.61 L433.04,421.37 L433.42,421.14 L433.80,420.90 L434.17,420.67 L434.55,420.44 L434.93,420.21 L435.31,419.97 L435.69,419.74 L436.07,419.51 L436.44,419.28 L436.82,419.05 L437.20,418.82 L437.58,418.58 L437.96,418.35 L438.34,418.11 L438.72,417.87 L439.09,417.63 L439.47,417.39 L439.85,417.14 L440.23,416.89 L440.61,416.64 L440.99,416.38 L441.36,416.12 L441.74,415.85 L442.12,415.59 L442.50,415.31 L442.88,415.03 L443.26,414.75 L443.63,414.46 L444.01,414.17 L444.39,413.89 L444.77,413.60 L445.15,413.32 L445.53,413.03 L445.90,412.74 L446.28,412.45 L446.66,412.15 L447.04,411.85 L447.42,411.54 L447.80,411.23 L448.17,410.92 L448.55,410.59 L448.93,410.26 L449.31,409.93 L449.69,409.58 L450.07,409.22 L450.45,408.86 L450.82,408.48 L451.20,408.09 L451.58,407.70 L451.96,407.28 L452.34,406.86 L452.72,406.42 L453.09,405.97 L453.47,405.51 L453.85,405.04 L454.23,404.56 L454.61,404.07 L454.99,403.57 L455.36,403.06 L455.74,402.54 L456.12,402.02 L456.50,401.49 L456.88,400.94 L457.26,400.40 L457.63,399.84 L458.01,399.28 L458.39,398.72 L458.77,398.15 L459.15,397.57 L459.53,396.99 L459.91,396.41 L460.28,395.82 L460.66,395.23 L461.04,394.64 L461.42,394.05 L461.80,393.43 L462.20,392.79 L462.62,392.11 L463.04,391.41 L463.47,390.69 L463.90,389.95 L464.34,389.19 L464.78,388.43 L465.22,387.67 L465.66,386.90 L466.10,386.13 L466.53,385.37 L466.95,384.63 L467.36,383.89 L467.76,383.18 L468.15,382.49 L468.52,381.83 L468.87,381.20 L469.20,380.60 L469.51,380.05 L469.80,379.53 L470.06,379.07 L470.30,378.66 L470.50,378.30" fill="none" stroke="#000" stroke-width="2.8" stroke-dasharray="4.91 4.16 4.90 4.17 4.88 4.19 4.87 4.20 4.86 4.21 4.85 4.23 4.84 4.24 4.82 4.25 4.81 4.27 4.80 4.28 4.79 4.29 4.77 4.31 4.76 4.32 4.75 4.34 4.74 4.35 4.72 4.36 4.71 4.38 4.70 4.39 4.69 4.40 4.67 4.42 4.66 4.43 4.65 4.44 4.64 4.46 4.62 4.47 4.61 4.48 4.60 4.50 4.59 4.51 4.57 4.52 4.56 4.54 4.58 4.56 4.63 4.59 4.70 4.62 4.76 4.65 4.82 4.69 4.88 4.72 5.08 4.95 5.28 5.21 5.47 5.49 5.65 5.79 5.81 6.10 5.96 6.43 6.08 6.73 6.17 6.99 6.24 7.24 6.25 7.25" stroke-dashoffset="-0.43" stroke-linecap="round" stroke-linejoin="round"/>
<path d="M80.00,440.80 C81.51,440.86 86.05,441.09 89.08,441.19 C92.11,441.28 95.14,441.36 98.16,441.39 C101.19,441.42 104.22,441.39 107.24,441.37 C110.27,441.36 113.30,441.32 116.33,441.28 C119.35,441.24 122.38,441.20 125.41,441.14 C128.43,441.08 131.46,441.03 134.49,440.92 C137.52,440.82 140.54,440.66 143.57,440.52 C146.60,440.38 149.62,440.25 152.65,440.08 C155.68,439.91 158.71,440.09 161.73,439.51 C164.76,438.93 167.79,437.19 170.81,436.61 C173.84,436.03 176.87,436.16 179.90,436.01 C182.92,435.86 185.95,435.80 188.98,435.69 C192.00,435.59 195.03,435.51 198.06,435.39 C201.09,435.26 204.11,435.10 207.14,434.95 C210.17,434.79 213.19,434.64 216.22,434.48 C219.25,434.32 222.28,434.16 225.30,433.99 C228.33,433.81 231.36,433.64 234.38,433.45 C237.41,433.27 240.44,433.08 243.47,432.87 C246.49,432.66 249.52,432.44 252.55,432.20 C255.57,431.97 258.60,431.72 261.63,431.46 C264.66,431.20 267.68,430.92 270.71,430.63 C273.74,430.34 276.76,430.03 279.79,429.72 C282.82,429.41 285.84,429.09 288.87,428.76 C291.90,428.43 294.93,428.08 297.95,427.74 C300.98,427.39 304.01,427.05 307.03,426.70 C310.06,426.36 313.09,426.03 316.12,425.67 C319.14,425.30 322.17,424.94 325.20,424.50 C328.22,424.07 331.25,423.62 334.28,423.07 C337.31,422.53 340.33,421.86 343.36,421.23 C346.39,420.60 349.41,419.93 352.44,419.28 C355.47,418.63 358.50,418.01 361.52,417.32 C364.55,416.63 367.58,415.95 370.60,415.14 C373.63,414.34 376.66,413.48 379.69,412.50 C382.71,411.52 385.74,410.46 388.77,409.27 C391.79,408.08 394.82,406.86 397.85,405.36 C400.88,403.85 403.90,402.18 406.93,400.24 C409.96,398.30 412.98,396.15 416.01,393.73 C419.04,391.30 422.07,388.75 425.09,385.71 C428.12,382.66 431.15,379.28 434.17,375.45 C437.20,371.62 440.23,367.95 443.26,362.73 C446.28,357.50 449.31,351.41 452.34,344.08 C455.36,336.75 458.39,329.08 461.42,318.77 C464.45,308.46 468.99,288.30 470.50,282.20" fill="none" stroke="#000" stroke-width="3.0"/>
<!-- arrows -->
<g stroke="#e41e26" stroke-width="1.35" fill="none">
<line x1="152.7" y1="121.4" x2="152.7" y2="177.3"/>
<polyline points="148.3,170.3 152.7,177.8 157.2,170.3"/>
<line x1="162.3" y1="369.5" x2="162.3" y2="435"/>
<polyline points="157.8,427.8 162.3,435.5 166.8,427.8"/>
</g>
<!-- legends -->
<g>
<line x1="104" y1="29.8" x2="135" y2="29.8" stroke="#000" stroke-width="2.6"/>
<line x1="104" y1="50.2" x2="135" y2="50.2" stroke="#000" stroke-width="2.6" stroke-dasharray="5.5 3" stroke-linecap="butt"/>
<line x1="104" y1="69.8" x2="134" y2="69.8" stroke="#747474" stroke-width="1.3" stroke-dasharray="4.6 1.7"/>
<line x1="104" y1="89.4" x2="134.5" y2="89.4" stroke="#000" stroke-width="1.2"/>
<line x1="98" y1="279.3" x2="129.6" y2="279.3" stroke="#000" stroke-width="2.6"/>
<line x1="98" y1="296.3" x2="129.6" y2="296.3" stroke="#000" stroke-width="2.6" stroke-dasharray="5.5 3"/>
<line x1="98" y1="314.1" x2="129.6" y2="314.1" stroke="#747474" stroke-width="1.3" stroke-dasharray="4.6 1.7"/>
<line x1="98" y1="330.7" x2="129.6" y2="330.7" stroke="#000" stroke-width="1.2"/>
</g>
<g fill="#1a1a1a">
<text x="144.12" y="32.2" text-anchor="middle" font-family="Liberation Serif" font-size="11.5" stroke="#111" stroke-width="0.32">d</text>
<text x="150.38" y="32.2" text-anchor="middle" font-family="Liberation Serif" font-size="11.5" stroke="#111" stroke-width="0.32">i</text>
<text x="156.62" y="32.2" text-anchor="middle" font-family="Liberation Serif" font-size="11.5" stroke="#111" stroke-width="0.32">s</text>
<text x="162.88" y="32.2" text-anchor="middle" font-family="Liberation Serif" font-size="11.5" stroke="#111" stroke-width="0.32">c</text>
<text x="169.12" y="32.2" text-anchor="middle" font-family="Liberation Serif" font-size="11.5" stroke="#111" stroke-width="0.32">o</text>
<text x="175.38" y="32.2" text-anchor="middle" font-family="Liberation Serif" font-size="11.5" stroke="#111" stroke-width="0.32">u</text>
<text x="181.62" y="32.2" text-anchor="middle" font-family="Liberation Serif" font-size="11.5" stroke="#111" stroke-width="0.32">n</text>
<text x="187.88" y="32.2" text-anchor="middle" font-family="Liberation Serif" font-size="11.5" stroke="#111" stroke-width="0.32">t</text>
<text x="194.12" y="32.2" text-anchor="middle" font-family="Liberation Serif" font-size="11.5" stroke="#111" stroke-width="0.32">e</text>
<text x="200.38" y="32.2" text-anchor="middle" font-family="Liberation Serif" font-size="11.5" stroke="#111" stroke-width="0.32">d</text>
<text x="212.88" y="32.2" text-anchor="middle" font-family="Liberation Serif" font-size="11.5" stroke="#111" stroke-width="0.32">I</text>
<text x="219.12" y="32.2" text-anchor="middle" font-family="Liberation Serif" font-size="11.5" stroke="#111" stroke-width="0.32" textLength="5.5" lengthAdjust="spacingAndGlyphs">C</text>
<text x="225.38" y="32.2" text-anchor="middle" font-family="Liberation Serif" font-size="11.5" stroke="#111" stroke-width="0.32" textLength="5.5" lengthAdjust="spacingAndGlyphs">E</text>
<text x="231.62" y="32.2" text-anchor="middle" font-family="Liberation Serif" font-size="11.5" stroke="#111" stroke-width="0.32" textLength="5.5" lengthAdjust="spacingAndGlyphs">R</text>
<text x="144.12" y="52.5" text-anchor="middle" font-family="Liberation Serif" font-size="11.5" stroke="#111" stroke-width="0.32">u</text>
<text x="150.38" y="52.5" text-anchor="middle" font-family="Liberation Serif" font-size="11.5" stroke="#111" stroke-width="0.32">n</text>
<text x="156.62" y="52.5" text-anchor="middle" font-family="Liberation Serif" font-size="11.5" stroke="#111" stroke-width="0.32">d</text>
<text x="162.88" y="52.5" text-anchor="middle" font-family="Liberation Serif" font-size="11.5" stroke="#111" stroke-width="0.32">i</text>
<text x="169.12" y="52.5" text-anchor="middle" font-family="Liberation Serif" font-size="11.5" stroke="#111" stroke-width="0.32">s</text>
<text x="175.38" y="52.5" text-anchor="middle" font-family="Liberation Serif" font-size="11.5" stroke="#111" stroke-width="0.32">c</text>
<text x="181.62" y="52.5" text-anchor="middle" font-family="Liberation Serif" font-size="11.5" stroke="#111" stroke-width="0.32">o</text>
<text x="187.88" y="52.5" text-anchor="middle" font-family="Liberation Serif" font-size="11.5" stroke="#111" stroke-width="0.32">u</text>
<text x="194.12" y="52.5" text-anchor="middle" font-family="Liberation Serif" font-size="11.5" stroke="#111" stroke-width="0.32">n</text>
<text x="200.38" y="52.5" text-anchor="middle" font-family="Liberation Serif" font-size="11.5" stroke="#111" stroke-width="0.32">t</text>
<text x="206.62" y="52.5" text-anchor="middle" font-family="Liberation Serif" font-size="11.5" stroke="#111" stroke-width="0.32">e</text>
<text x="212.88" y="52.5" text-anchor="middle" font-family="Liberation Serif" font-size="11.5" stroke="#111" stroke-width="0.32">d</text>
<text x="225.38" y="52.5" text-anchor="middle" font-family="Liberation Serif" font-size="11.5" stroke="#111" stroke-width="0.32">I</text>
<text x="231.62" y="52.5" text-anchor="middle" font-family="Liberation Serif" font-size="11.5" stroke="#111" stroke-width="0.32" textLength="5.5" lengthAdjust="spacingAndGlyphs">C</text>
<text x="237.88" y="52.5" text-anchor="middle" font-family="Liberation Serif" font-size="11.5" stroke="#111" stroke-width="0.32" textLength="5.5" lengthAdjust="spacingAndGlyphs">E</text>
<text x="244.12" y="52.5" text-anchor="middle" font-family="Liberation Serif" font-size="11.5" stroke="#111" stroke-width="0.32" textLength="5.5" lengthAdjust="spacingAndGlyphs">R</text>
<text x="138.6" y="73.6" stroke="#1a1a1a" stroke-width="0.32" font-size="10.4" textLength="32.6" lengthAdjust="spacingAndGlyphs">1XGDP</text>
<text x="138.3" y="92.7" stroke="#1a1a1a" stroke-width="0.32" font-size="10.4" textLength="32.6" lengthAdjust="spacingAndGlyphs">3XGDP</text>
<text x="136.11" y="280.5" text-anchor="middle" font-family="Liberation Serif" font-size="11.5" stroke="#111" stroke-width="0.32">d</text>
<text x="142.33" y="280.5" text-anchor="middle" font-family="Liberation Serif" font-size="11.5" stroke="#111" stroke-width="0.32">i</text>
<text x="148.55" y="280.5" text-anchor="middle" font-family="Liberation Serif" font-size="11.5" stroke="#111" stroke-width="0.32">s</text>
<text x="154.77" y="280.5" text-anchor="middle" font-family="Liberation Serif" font-size="11.5" stroke="#111" stroke-width="0.32">c</text>
<text x="160.99" y="280.5" text-anchor="middle" font-family="Liberation Serif" font-size="11.5" stroke="#111" stroke-width="0.32">o</text>
<text x="167.21" y="280.5" text-anchor="middle" font-family="Liberation Serif" font-size="11.5" stroke="#111" stroke-width="0.32">u</text>
<text x="173.43" y="280.5" text-anchor="middle" font-family="Liberation Serif" font-size="11.5" stroke="#111" stroke-width="0.32">n</text>
<text x="179.65" y="280.5" text-anchor="middle" font-family="Liberation Serif" font-size="11.5" stroke="#111" stroke-width="0.32">t</text>
<text x="185.87" y="280.5" text-anchor="middle" font-family="Liberation Serif" font-size="11.5" stroke="#111" stroke-width="0.32">e</text>
<text x="192.09" y="280.5" text-anchor="middle" font-family="Liberation Serif" font-size="11.5" stroke="#111" stroke-width="0.32">d</text>
<text x="204.53" y="280.5" text-anchor="middle" font-family="Liberation Serif" font-size="11.5" stroke="#111" stroke-width="0.32">I</text>
<text x="210.75" y="280.5" text-anchor="middle" font-family="Liberation Serif" font-size="11.5" stroke="#111" stroke-width="0.32" textLength="5.5" lengthAdjust="spacingAndGlyphs">C</text>
<text x="216.97" y="280.5" text-anchor="middle" font-family="Liberation Serif" font-size="11.5" stroke="#111" stroke-width="0.32" textLength="5.5" lengthAdjust="spacingAndGlyphs">E</text>
<text x="223.19" y="280.5" text-anchor="middle" font-family="Liberation Serif" font-size="11.5" stroke="#111" stroke-width="0.32" textLength="5.5" lengthAdjust="spacingAndGlyphs">R</text>
<text x="136.11" y="300.8" text-anchor="middle" font-family="Liberation Serif" font-size="11.5" stroke="#111" stroke-width="0.32">u</text>
<text x="142.33" y="300.8" text-anchor="middle" font-family="Liberation Serif" font-size="11.5" stroke="#111" stroke-width="0.32">n</text>
<text x="148.55" y="300.8" text-anchor="middle" font-family="Liberation Serif" font-size="11.5" stroke="#111" stroke-width="0.32">d</text>
<text x="154.77" y="300.8" text-anchor="middle" font-family="Liberation Serif" font-size="11.5" stroke="#111" stroke-width="0.32">i</text>
<text x="160.99" y="300.8" text-anchor="middle" font-family="Liberation Serif" font-size="11.5" stroke="#111" stroke-width="0.32">s</text>
<text x="167.21" y="300.8" text-anchor="middle" font-family="Liberation Serif" font-size="11.5" stroke="#111" stroke-width="0.32">c</text>
<text x="173.43" y="300.8" text-anchor="middle" font-family="Liberation Serif" font-size="11.5" stroke="#111" stroke-width="0.32">o</text>
<text x="179.65" y="300.8" text-anchor="middle" font-family="Liberation Serif" font-size="11.5" stroke="#111" stroke-width="0.32">u</text>
<text x="185.87" y="300.8" text-anchor="middle" font-family="Liberation Serif" font-size="11.5" stroke="#111" stroke-width="0.32">n</text>
<text x="192.09" y="300.8" text-anchor="middle" font-family="Liberation Serif" font-size="11.5" stroke="#111" stroke-width="0.32">t</text>
<text x="198.31" y="300.8" text-anchor="middle" font-family="Liberation Serif" font-size="11.5" stroke="#111" stroke-width="0.32">e</text>
<text x="204.53" y="300.8" text-anchor="middle" font-family="Liberation Serif" font-size="11.5" stroke="#111" stroke-width="0.32">d</text>
<text x="216.97" y="300.8" text-anchor="middle" font-family="Liberation Serif" font-size="11.5" stroke="#111" stroke-width="0.32">I</text>
<text x="223.19" y="300.8" text-anchor="middle" font-family="Liberation Serif" font-size="11.5" stroke="#111" stroke-width="0.32" textLength="5.5" lengthAdjust="spacingAndGlyphs">C</text>
<text x="229.41" y="300.8" text-anchor="middle" font-family="Liberation Serif" font-size="11.5" stroke="#111" stroke-width="0.32" textLength="5.5" lengthAdjust="spacingAndGlyphs">E</text>
<text x="235.63" y="300.8" text-anchor="middle" font-family="Liberation Serif" font-size="11.5" stroke="#111" stroke-width="0.32" textLength="5.5" lengthAdjust="spacingAndGlyphs">R</text>
<text x="132.5" y="317.5" stroke="#1a1a1a" stroke-width="0.32" font-size="10.4" textLength="32.6" lengthAdjust="spacingAndGlyphs">1XGDP</text>
<text x="132.3" y="334.4" stroke="#1a1a1a" stroke-width="0.32" font-size="10.4" textLength="32.6" lengthAdjust="spacingAndGlyphs">3XGDP</text>
</g>
</g></svg>
</div></body></html>
